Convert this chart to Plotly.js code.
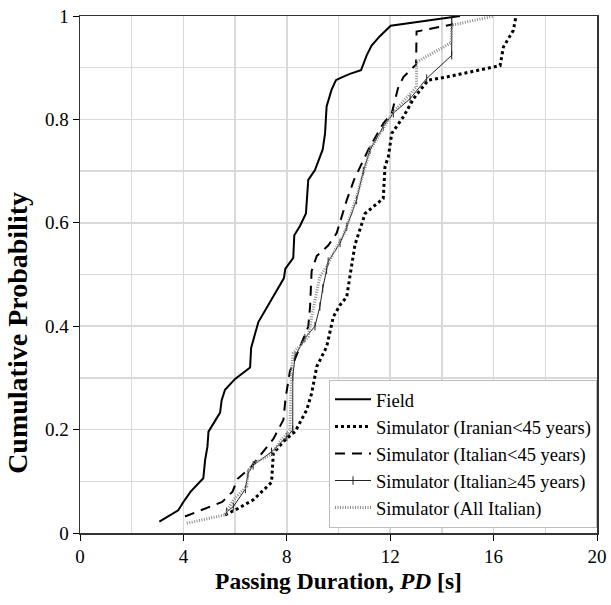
<!DOCTYPE html>
<html>
<head>
<meta charset="utf-8">
<script src="https://cdn.plot.ly/plotly-3.0.1.min.js"></script>
<style>html,body{margin:0;padding:0;background:#fff;}#chart{width:611px;height:605px;}</style>
</head>
<body>
<div id="chart"></div>
<script>
// Field
const fieldX = [3.07, 3.8, 4.0, 4.28, 4.77, 4.84, 4.93, 4.97, 5.42, 5.48, 5.61, 6.0, 6.58, 6.62, 6.9, 7.29, 7.67, 7.89, 7.94, 8.25, 8.29, 8.51, 8.74, 8.77, 8.81, 8.83, 9.09, 9.39, 9.48, 9.54, 9.73, 9.9, 10.06, 10.44, 10.87, 11.09, 11.28, 11.6, 12.02, 14.7];
const fieldY = [0.022, 0.044, 0.06, 0.08, 0.106, 0.141, 0.167, 0.196, 0.233, 0.257, 0.277, 0.298, 0.32, 0.358, 0.408, 0.441, 0.473, 0.493, 0.511, 0.532, 0.576, 0.594, 0.618, 0.636, 0.663, 0.683, 0.702, 0.742, 0.773, 0.825, 0.857, 0.876, 0.88, 0.888, 0.895, 0.924, 0.943, 0.961, 0.981, 1.0];
// Simulator (Iranian<45 years)
const iranX = [5.61, 6.06, 6.7, 7.41, 7.48, 7.93, 8.32, 8.77, 8.96, 9.16, 9.54, 9.8, 10.06, 10.32, 10.44, 10.57, 10.64, 11.03, 11.41, 11.73, 11.8, 11.93, 12.06, 12.51, 12.9, 13.47, 14.18, 16.25, 16.38, 16.76, 16.87];
const iranY = [0.035, 0.046, 0.064, 0.098, 0.154, 0.18, 0.196, 0.238, 0.27, 0.322, 0.36, 0.418, 0.441, 0.457, 0.496, 0.534, 0.558, 0.618, 0.634, 0.647, 0.709, 0.728, 0.773, 0.805, 0.84, 0.876, 0.882, 0.904, 0.94, 0.972, 1.0];
// Simulator (Italian<45 years)
const itYoungX = [4.06, 5.5, 5.9, 6.1, 6.6, 7.48, 7.87, 7.95, 8.12, 8.83, 8.9, 8.96, 9.16, 9.6, 9.93, 10.32, 10.6, 11.15, 11.73, 12.06, 12.3, 12.51, 13.0, 13.02, 14.44];
const itYoungY = [0.032, 0.06, 0.08, 0.105, 0.127, 0.182, 0.219, 0.26, 0.313, 0.399, 0.438, 0.507, 0.536, 0.556, 0.58, 0.644, 0.683, 0.741, 0.792, 0.812, 0.86, 0.882, 0.906, 0.97, 0.984];
// Simulator (Italian>=45 years)
const itOldX = [5.67, 5.93, 6.4, 6.5, 6.7, 7.41, 8.0, 8.23, 8.23, 8.32, 8.7, 9.09, 9.28, 9.39, 9.54, 9.6, 10.06, 10.32, 10.7, 10.96, 11.22, 11.73, 12.12, 12.77, 13.41, 14.38, 14.38, 14.38];
const itOldY = [0.041, 0.051, 0.085, 0.115, 0.131, 0.157, 0.186, 0.199, 0.302, 0.342, 0.377, 0.4, 0.438, 0.473, 0.509, 0.525, 0.561, 0.592, 0.644, 0.7, 0.741, 0.786, 0.812, 0.84, 0.879, 0.924, 0.982, 1.0];
// Simulator (All Italian)
const itAllX = [4.13, 5.61, 5.93, 6.45, 6.51, 6.83, 7.41, 7.74, 8.12, 8.15, 8.19, 8.25, 8.83, 8.96, 9.16, 9.28, 9.54, 9.86, 10.19, 10.7, 11.22, 11.99, 12.12, 13.02, 13.02, 14.35, 14.38, 16.0];
const itAllY = [0.019, 0.035, 0.064, 0.09, 0.122, 0.138, 0.151, 0.177, 0.199, 0.27, 0.322, 0.348, 0.38, 0.418, 0.464, 0.496, 0.515, 0.547, 0.575, 0.65, 0.741, 0.805, 0.814, 0.863, 0.911, 0.948, 0.982, 1.0];

const names = ["Field", "Simulator (Iranian&lt;45 years)", "Simulator (Italian&lt;45 years)", "Simulator (Italian≥45 years)", "Simulator (All Italian)"];
const xTitle = "<b>Passing Duration, <i>PD</i> [s]</b>";
const yTitle = "<b>Cumulative Probability</b>";

const traces = [
  {x: fieldX, y: fieldY, name: names[0], mode: "lines", line: {color: "#000", width: 2}, legendgroup: "a"},
  {x: iranX, y: iranY, name: names[1], mode: "lines", line: {color: "#000", width: 3, dash: "dot"}, legendgroup: "b"},
  {x: itYoungX, y: itYoungY, name: names[2], mode: "lines", line: {color: "#000", width: 2, dash: "10px,7px"}, legendgroup: "c"},
  {x: itOldX, y: itOldY, name: names[3], mode: "lines+markers", line: {color: "#222", width: 1},
    marker: {symbol: "line-ns-open", size: 6, color: "#222", line: {width: 1, color: "#222"}}, legendgroup: "d"},
  {x: itAllX, y: itAllY, name: names[4], mode: "lines", line: {color: "#8c8c8c", width: 3, dash: "1px,1.5px"}, legendgroup: "e"}
];

const font = "Liberation Serif, Times New Roman, serif";
const layout = {
  width: 611, height: 605,
  margin: {l: 80, r: 14, t: 16, b: 72},
  paper_bgcolor: "#fff", plot_bgcolor: "#fff",
  font: {family: font, size: 19, color: "#000"},
  showlegend: true,
  legend: {
    x: 1, y: 0.01, xanchor: "right", yanchor: "bottom",
    bgcolor: "#fff", bordercolor: "#bdbdbd", borderwidth: 1,
    font: {family: font, size: 18.5, color: "#000"},
    traceorder: "grouped", tracegroupgap: 0, itemwidth: 36
  },
  xaxis: {
    range: [0, 20], dtick: 4, tick0: 0,
    showgrid: true, gridcolor: "#d9d9d9", gridwidth: 1.5,
    minor: {dtick: 2, showgrid: true, gridcolor: "#d9d9d9", gridwidth: 1.5, ticks: ""},
    ticks: "outside", ticklen: 6, tickcolor: "#000", tickwidth: 1,
    showline: true, linecolor: "#333", linewidth: 1.5, mirror: true,
    zeroline: false,
    tickfont: {family: font, size: 19},
    title: {text: xTitle, font: {family: font, size: 23.5}, standoff: 6}
  },
  yaxis: {
    range: [0, 1], dtick: 0.2, tick0: 0,
    showgrid: true, gridcolor: "#d9d9d9", gridwidth: 1.5,
    minor: {dtick: 0.1, showgrid: true, gridcolor: "#d9d9d9", gridwidth: 1.5, ticks: ""},
    ticks: "outside", ticklen: 6, tickcolor: "#000", tickwidth: 1,
    showline: true, linecolor: "#333", linewidth: 1.5, mirror: true,
    zeroline: false,
    tickfont: {family: font, size: 19}
  },
  annotations: [{
    text: yTitle, xref: "paper", yref: "paper", x: -0.121, y: 0.388,
    xanchor: "center", yanchor: "middle", textangle: -90, showarrow: false,
    font: {family: font, size: 28, color: "#000"}
  }]
};

Plotly.newPlot("chart", traces, layout, {displayModeBar: false, staticPlot: true});
</script>
</body>
</html>
